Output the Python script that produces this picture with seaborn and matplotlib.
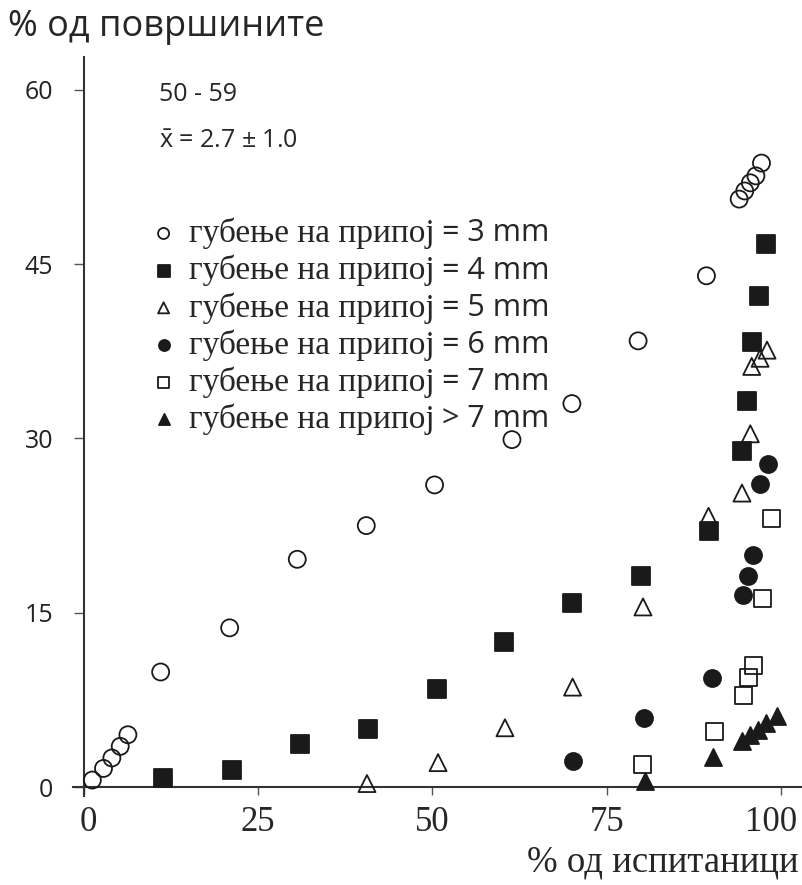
import matplotlib
matplotlib.use("Agg")
import matplotlib.pyplot as plt
import matplotlib.transforms as mtransforms
import seaborn as sns

# ---- data ----
x_3mm = [1.2, 2.8, 4.0, 5.2, 6.3, 11.0, 20.9, 30.6, 40.5, 50.3, 61.4, 70.0, 79.5, 89.3, 94.0, 94.8, 95.6, 96.4, 97.2]
y_3mm = [0.6, 1.6, 2.5, 3.5, 4.5, 9.9, 13.7, 19.6, 22.5, 26.0, 29.9, 33.0, 38.4, 44.0, 50.6, 51.3, 52.0, 52.6, 53.7]

x_4mm = [11.3, 21.2, 31.0, 40.8, 50.7, 60.3, 70.0, 79.9, 89.6, 94.4, 95.1, 95.8, 96.8, 97.8]
y_4mm = [0.75, 1.5, 3.7, 5.0, 8.4, 12.5, 15.8, 18.2, 22.0, 28.9, 33.2, 38.3, 42.3, 46.7]

x_5mm = [40.6, 50.8, 60.4, 70.1, 80.2, 89.6, 94.4, 95.6, 95.8, 97.0, 98.0]
y_5mm = [0.3, 2.1, 5.1, 8.6, 15.5, 23.3, 25.3, 30.4, 36.2, 36.9, 37.6]

x_6mm = [70.2, 80.4, 90.1, 94.6, 95.3, 96.0, 97.0, 98.1]
y_6mm = [2.2, 5.9, 9.4, 16.5, 18.2, 20.0, 26.1, 27.8]

x_7mm = [80.2, 90.5, 94.6, 95.3, 96.1, 97.4, 98.7]
y_7mm = [1.9, 4.8, 7.9, 9.4, 10.5, 16.2, 23.1]

x_gt7 = [80.5, 90.2, 94.4, 95.6, 96.7, 97.9, 99.4]
y_gt7 = [0.5, 2.6, 4.0, 4.5, 4.9, 5.5, 6.1]

label_left = "губење на припој"
label_right = ["= 3 mm", "= 4 mm", "= 5 mm", "= 6 mm", "= 7 mm", "> 7 mm"]

x_ticks = [0, 25, 50, 75, 100]
y_ticks = [0, 15, 30, 45, 60]

SERIF = "Liberation Serif"
SANS = "Open Sans"

sns.set_style("white")
plt.rcParams["font.family"] = [SANS, "DejaVu Sans"]
plt.rcParams["mathtext.fontset"] = "custom"
plt.rcParams["mathtext.rm"] = SANS
plt.rcParams["mathtext.it"] = SANS

fig = plt.figure(figsize=(8.03, 8.85), dpi=100)
ax = fig.add_axes([0.0907, 0.1002, 0.9062, 0.835])

ink = "#1a1a1a"
sz = 150
lw = 1.3

series = [
    (x_3mm, y_3mm, "o", "none"),
    (x_4mm, y_4mm, "s", ink),
    (x_5mm, y_5mm, "^", "none"),
    (x_6mm, y_6mm, "o", ink),
    (x_7mm, y_7mm, "s", "none"),
    (x_gt7, y_gt7, "^", ink),
]
for (xs, ys, m, fc), lab in zip(series, label_right):
    sns.scatterplot(x=xs, y=ys, marker=m, s=sz, facecolor=fc, edgecolor=ink,
                    linewidth=lw, ax=ax, label=label_left, clip_on=False, zorder=3)

ax.set_xlim(-1.6, 102.8)
ax.set_ylim(-0.8, 62.8)
ax.spines["top"].set_visible(False)
ax.spines["right"].set_visible(False)
ax.spines["left"].set_position(("data", 0))
ax.spines["bottom"].set_position(("data", 0))
for s in ["left", "bottom"]:
    ax.spines[s].set_linewidth(1.5)
    ax.spines[s].set_color("#333333")

ax.set_xticks(x_ticks)
ax.set_yticks(y_ticks)
ax.set_xticklabels([str(t) for t in x_ticks], fontfamily=SERIF, fontsize=25)
ax.set_yticklabels([str(t) for t in y_ticks], fontfamily=SANS, fontsize=18, color="#222222")
ax.tick_params(axis="y", direction="out", length=7, width=1, color="#555555", pad=15, left=True)
ax.tick_params(axis="x", direction="out", length=6, width=1, color="#555555", pad=8, bottom=True)

# nudge the end labels like the reference
xlabels = ax.get_xticklabels()
xlabels[0].set_transform(xlabels[0].get_transform() + mtransforms.ScaledTranslation(3 / 72, 0, fig.dpi_scale_trans))
xlabels[-1].set_transform(xlabels[-1].get_transform() + mtransforms.ScaledTranslation(-7.5 / 72, 0, fig.dpi_scale_trans))

# title and axis label
fig.text(0.01, 0.969, "% од површините", fontfamily=SANS, fontsize=26, va="center", ha="left")
fig.text(0.994, 0.026, "% од испитаници", fontfamily=SERIF, fontsize=26.5, va="center", ha="right")

# age group and mean
ax.text(0.118, 0.950, "50 - 59", transform=ax.transAxes, fontfamily=SANS, fontsize=18, va="center")
ax.text(0.118, 0.886, r"$\bar{x}$ = 2.7 ± 1.0", transform=ax.transAxes, fontfamily=SANS, fontsize=18, va="center")

# legend: serif part from legend, sans part placed after it
handles, labels = ax.get_legend_handles_labels()
leg = ax.legend(handles, labels, loc="upper left", bbox_to_anchor=(0.111, 0.783),
                frameon=False, markerscale=0.65, handlelength=0.6, handletextpad=0.45,
                labelspacing=0.17, prop={"family": SERIF, "size": 24}, borderaxespad=0,
                borderpad=0)

fig.canvas.draw()
renderer = fig.canvas.get_renderer()
inv = fig.transFigure.inverted()
for txt, rt in zip(leg.get_texts(), label_right):
    bb = txt.get_window_extent(renderer)
    x0, y0 = inv.transform((bb.x1 + 8, (bb.y0 + bb.y1) / 2))
    fig.text(x0, y0, rt, fontfamily=SANS, fontsize=22, va="center", ha="left")

fig.savefig("out.png", dpi=100, facecolor="white")
